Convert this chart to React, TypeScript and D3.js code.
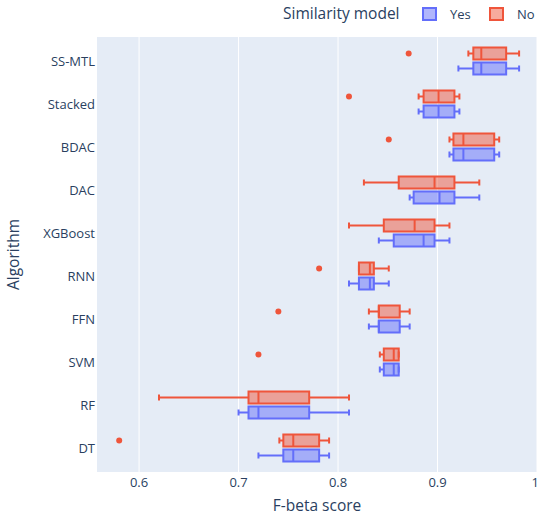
import { scaleLinear, scaleBand } from "d3"

// Data
const categories = ["SS-MTL", "Stacked", "BDAC", "DAC", "XGBoost", "RNN", "FFN", "SVM", "RF", "DT"]
const groups = ["No", "Yes"]
const xTicks = [0.6, 0.7, 0.8, 0.9, 1]

const noMin = [0.931, 0.881, 0.912, 0.826, 0.811, 0.821, 0.831, 0.842, 0.62, 0.741]
const noQ1 = [0.936, 0.886, 0.916, 0.861, 0.846, 0.821, 0.841, 0.846, 0.71, 0.745]
const noMedian = [0.944, 0.901, 0.926, 0.897, 0.877, 0.832, 0.841, 0.856, 0.72, 0.755]
const noQ3 = [0.969, 0.917, 0.957, 0.917, 0.897, 0.836, 0.862, 0.861, 0.771, 0.781]
const noMax = [0.982, 0.922, 0.962, 0.942, 0.912, 0.851, 0.872, 0.861, 0.811, 0.791]
const noOutliers = [[0.871], [0.811], [0.851], [], [], [0.781], [0.74], [0.72], [], [0.58]]

const yesMin = [0.921, 0.881, 0.912, 0.872, 0.841, 0.811, 0.831, 0.842, 0.7, 0.72]
const yesQ1 = [0.936, 0.886, 0.916, 0.876, 0.856, 0.821, 0.841, 0.846, 0.71, 0.745]
const yesMedian = [0.944, 0.901, 0.926, 0.902, 0.886, 0.832, 0.841, 0.856, 0.72, 0.755]
const yesQ3 = [0.969, 0.917, 0.957, 0.917, 0.897, 0.836, 0.862, 0.861, 0.771, 0.781]
const yesMax = [0.982, 0.922, 0.962, 0.942, 0.912, 0.851, 0.872, 0.861, 0.811, 0.791]
const yesOutliers: number[][] = [[], [], [], [], [], [], [], [], [], []]

const W = 539
const H = 515
const plot = { left: 97, right: 537, top: 37, bottom: 472 }
const font = "'Open Sans', sans-serif"
const textColor = "#2a3f5f"
const colors: Record<string, string> = { Yes: "#636efa", No: "#EF553B" }

const series: Record<string, any> = {
    No: { min: noMin, q1: noQ1, med: noMedian, q3: noQ3, max: noMax, out: noOutliers },
    Yes: { min: yesMin, q1: yesQ1, med: yesMedian, q3: yesQ3, max: yesMax, out: yesOutliers },
}

export default function App() {
    const x = scaleLinear().domain([0.5577, 1.0]).range([plot.left, plot.right])
    const y = scaleBand().domain(categories).range([plot.top, plot.bottom]).paddingInner(0).paddingOuter(0.058)
    const sub = scaleBand().domain(groups).range([-15, 15]).paddingInner(0.2).paddingOuter(0.1)
    const bw = sub.bandwidth()

    return (
        <svg width={W} height={H} style={{ position: "absolute", left: 0, top: 0, background: "#fff" }} fontFamily={font}>
            <rect x={plot.left} y={plot.top} width={plot.right - plot.left} height={plot.bottom - plot.top} fill="#E5ECF6" />
            {xTicks.map(t => {
                // last tick sits on the right edge, keep its label inside the svg
                const atEdge = x(t) + 4 > W
                return (
                    <g key={t}>
                        <line x1={x(t)} x2={x(t)} y1={plot.top} y2={plot.bottom} stroke="#fff" strokeWidth={1} />
                        <text x={atEdge ? W : x(t)} y={plot.bottom + 15} textAnchor={atEdge ? "end" : "middle"} fontSize={13} fill={textColor}>{t}</text>
                    </g>
                )
            })}
            {categories.map(c => (
                <text key={c} x={plot.left - 2} y={y(c)! + y.bandwidth() / 2} dy="0.35em" textAnchor="end" fontSize={13} fill={textColor}>{c}</text>
            ))}

            {groups.map(g => {
                const s = series[g]
                const col = colors[g]
                return categories.map((c, i) => {
                    // centre of this group's box inside the category band
                    const cy = y(c)! + y.bandwidth() / 2 + sub(g)! + bw / 2
                    const top = cy - bw / 2
                    return (
                        <g key={g + c}>
                            <line x1={x(s.min[i])} x2={x(s.q1[i])} y1={cy} y2={cy} stroke={col} strokeWidth={2} />
                            <line x1={x(s.q3[i])} x2={x(s.max[i])} y1={cy} y2={cy} stroke={col} strokeWidth={2} />
                            <line x1={x(s.min[i])} x2={x(s.min[i])} y1={cy - bw / 4} y2={cy + bw / 4} stroke={col} strokeWidth={2} />
                            <line x1={x(s.max[i])} x2={x(s.max[i])} y1={cy - bw / 4} y2={cy + bw / 4} stroke={col} strokeWidth={2} />
                            <rect x={x(s.q1[i])} y={top} width={x(s.q3[i]) - x(s.q1[i])} height={bw} fill={col} fillOpacity={0.5} stroke={col} strokeWidth={2} />
                            <line x1={x(s.med[i])} x2={x(s.med[i])} y1={top} y2={top + bw} stroke={col} strokeWidth={2} />
                            {s.out[i].map((o: number, k: number) => (
                                <circle key={k} cx={x(o)} cy={cy} r={3} fill={col} />
                            ))}
                        </g>
                    )
                })
            })}

            <text x={(plot.left + plot.right) / 2} y={plot.bottom + 39} textAnchor="middle" fontSize={15.5} fill={textColor}>F-beta score</text>
            <text transform={`translate(19,${(plot.top + plot.bottom) / 2}) rotate(-90)`} textAnchor="middle" fontSize={15.5} fill={textColor}>Algorithm</text>

            {/* Legend */}
            <text x={283} y={19} fontSize={15.5} fill={textColor}>Similarity model</text>
            {["Yes", "No"].map((g, i) => {
                const lx = 423 + i * 67
                return (
                    <g key={g}>
                        <rect x={lx} y={8} width={13} height={12} fill={colors[g]} fillOpacity={0.5} stroke={colors[g]} strokeWidth={2} />
                        <text x={lx + 27} y={19} fontSize={13} fill={textColor}>{g}</text>
                    </g>
                )
            })}
        </svg>
    )
}
